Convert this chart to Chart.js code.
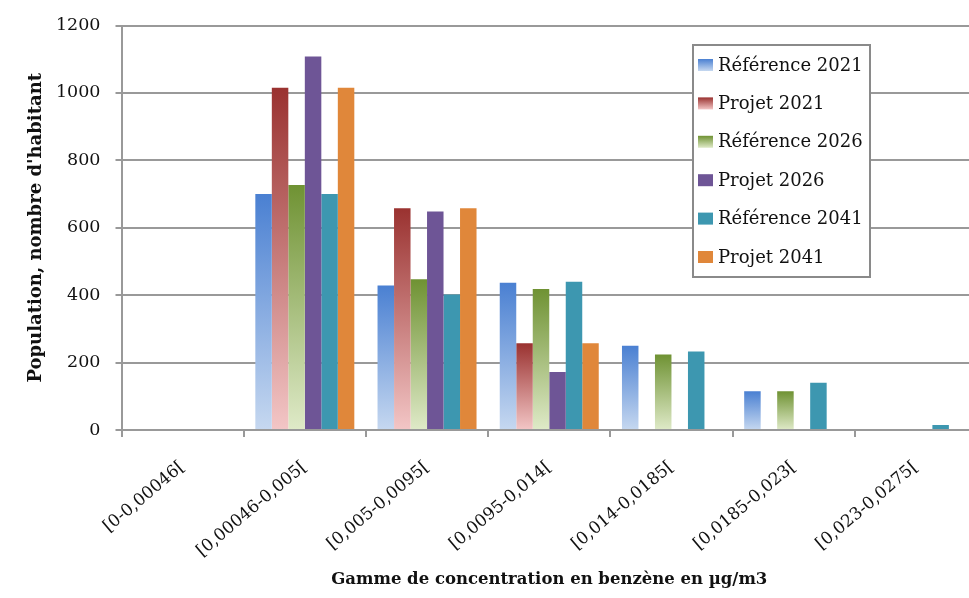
<!DOCTYPE html>
<html lang="fr">
<head>
<meta charset="utf-8">
<title>Population par gamme de concentration en benzène</title>
<script src="https://cdn.jsdelivr.net/npm/chart.js@4"></script>
<style>
  html, body { margin: 0; padding: 0; background: #fff; overflow: hidden; }
  #wrap { width: 969px; height: 598px; overflow: hidden; }
  canvas { display: block; }
</style>
</head>
<body>
<div id="wrap"><canvas id="chart" width="985" height="598"></canvas></div>
<script>
// Concentration ranges (µg/m3)
const categories = [
  '[0-0,00046[', '[0,00046-0,005[', '[0,005-0,0095[', '[0,0095-0,014[',
  '[0,014-0,0185[', '[0,0185-0,023[', '[0,023-0,0275['
];

// Population (number of inhabitants) per range
const reference2021 = [0, 700, 429, 437, 250, 115, 0];
const projet2021    = [0, 1015, 658, 257, 0, 0, 0];
const reference2026 = [0, 727, 447, 418, 224, 115, 0];
const projet2026    = [0, 1108, 648, 172, 0, 0, 0];
const reference2041 = [0, 700, 402, 440, 233, 140, 15];
const projet2041    = [0, 1015, 658, 257, 0, 0, 0];

const yTicks = [0, 200, 400, 600, 800, 1000, 1200];

const FONT = '"DejaVu Serif", "Liberation Serif", serif';
const GRID = '#999999';
const TEXT = '#111111';

// Vertical gradient for each bar: dark at the top, pale at the base
function barGradient(top, bottom) {
  return (ctx) => {
    const chart = ctx.chart;
    const y = chart.scales && chart.scales.y;
    if (!y || ctx.type !== 'data') return top;
    const y1 = y.getPixelForValue(ctx.raw);
    const y0 = y.getPixelForValue(0);
    if (!isFinite(y0) || !isFinite(y1) || y0 === y1) return top;
    const g = chart.ctx.createLinearGradient(0, y1, 0, y0);
    g.addColorStop(0, top);
    g.addColorStop(1, bottom);
    return g;
  };
}

const series = [
  { label: 'Référence 2021', data: reference2021, top: '#4a80d2', bottom: '#c6d8f0' },
  { label: 'Projet 2021',    data: projet2021,    top: '#9a3230', bottom: '#f3c6c6' },
  { label: 'Référence 2026', data: reference2026, top: '#6f9233', bottom: '#dfeac8' },
  { label: 'Projet 2026',    data: projet2026,    top: '#6e5596', bottom: '#6e5596' },
  { label: 'Référence 2041', data: reference2041, top: '#3d97b0', bottom: '#3d97b0' },
  { label: 'Projet 2041',    data: projet2041,    top: '#e0873a', bottom: '#e0873a' }
];

// Boxed legend drawn inside the plot area
const boxedLegend = {
  id: 'boxedLegend',
  afterDraw(chart) {
    const c = chart.ctx;
    const x0 = 693, y0 = 45, w = 177, h = 232;
    c.save();
    c.fillStyle = '#ffffff';
    c.fillRect(x0, y0, w, h);
    c.strokeStyle = '#8a8a8a';
    c.lineWidth = 2;
    c.strokeRect(x0, y0, w, h);
    c.font = '18px ' + FONT;
    c.textBaseline = 'middle';
    c.textAlign = 'left';
    series.forEach((s, i) => {
      const cy = 65 + i * 38.4;
      const g = c.createLinearGradient(0, cy - 6, 0, cy + 6);
      g.addColorStop(0, s.top);
      g.addColorStop(1, s.bottom);
      c.fillStyle = g;
      c.fillRect(698, cy - 6, 15, 12);
      c.fillStyle = TEXT;
      c.fillText(s.label, 718, cy + 1);
    });
    c.restore();
  }
};

new Chart(document.getElementById('chart'), {
  type: 'bar',
  data: {
    labels: categories,
    datasets: series.map(s => ({
      label: s.label,
      data: s.data,
      backgroundColor: barGradient(s.top, s.bottom),
      borderWidth: 0,
      categoryPercentage: 0.81,
      barPercentage: 1.0
    }))
  },
  options: {
    responsive: false,
    animation: false,
    layout: { padding: { left: 0, right: 8, top: 18, bottom: 0 } },
    plugins: {
      legend: { display: false },
      tooltip: { enabled: false }
    },
    scales: {
      x: {
        grid: {
          display: true,
          drawOnChartArea: false,
          drawTicks: true,
          tickLength: 7,
          color: GRID,
          lineWidth: 2,
          offset: true
        },
        border: { display: true, color: GRID, width: 2 },
        ticks: {
          color: TEXT,
          font: { family: FONT, size: 17 },
          maxRotation: 40,
          minRotation: 40,
          autoSkip: false,
          padding: 20
        },
        title: {
          display: true,
          text: 'Gamme de concentration en benzène en µg/m3',
          color: TEXT,
          font: { family: FONT, size: 16.5, weight: 'bold' },
          padding: { top: 0, bottom: 8 }
        },
        afterFit(scale) { scale.height = 168; }
      },
      y: {
        min: 0,
        max: 1200,
        afterBuildTicks(scale) { scale.ticks = yTicks.map(v => ({ value: v })); },
        grid: {
          color: GRID,
          lineWidth: 2,
          tickLength: 6,
          drawTicks: true
        },
        border: { display: true, color: GRID, width: 2 },
        ticks: {
          color: TEXT,
          font: { family: FONT, size: 17.5 },
          padding: 15,
          callback: (v) => String(v)
        },
        title: {
          display: true,
          text: "Population, nombre d'habitant",
          color: TEXT,
          font: { family: FONT, size: 18, weight: 'bold' },
          padding: { top: 26, bottom: 0 }
        },
        afterFit(scale) { scale.width = 121.5; }
      }
    }
  },
  plugins: [boxedLegend]
});
</script>
</body>
</html>
